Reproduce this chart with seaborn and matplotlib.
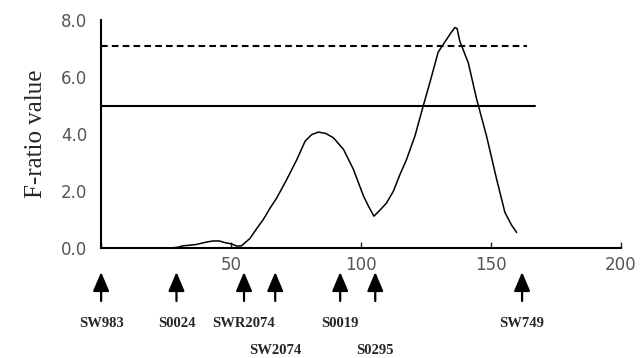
import numpy as np
import pandas as pd
import seaborn as sns
import matplotlib.pyplot as plt
import matplotlib.transforms as mtransforms

# F-ratio profile (position, F value)
positions = [26.5, 29.6, 31.5, 34, 36.8, 40, 43, 45.5, 47.7, 50, 52.2, 54, 57.3, 60,
             62.4, 65, 67.6, 71.4, 75.3, 78.5, 81, 83.6, 86.5, 89.4, 93.3, 97.1, 101,
             103, 105, 107.5, 109.9, 112.5, 115, 117.5, 120.8, 124, 126.5, 129.7, 133,
             135, 136.2, 137, 138, 141.3, 144.5, 148.3, 152.2, 155.4, 158, 159.9]
f_values = [0.0, 0.03, 0.08, 0.1, 0.13, 0.2, 0.25, 0.25, 0.19, 0.15, 0.07, 0.08, 0.34, 0.7,
            1.0, 1.4, 1.76, 2.4, 3.1, 3.75, 3.98, 4.07, 4.02, 3.87, 3.46, 2.76, 1.82,
            1.45, 1.12, 1.35, 1.59, 2.0, 2.58, 3.1, 3.94, 5.0, 5.8, 6.87, 7.33,
            7.6, 7.74, 7.7, 7.27, 6.5, 5.23, 3.94, 2.42, 1.25, 0.8, 0.55]

# significance thresholds (value, right end of line)
threshold_vals = [5.0, 7.1]
threshold_ends = [167, 164]
threshold_styles = ['-', '--']

# markers along the chromosome
marker_names = ['SW983', 'S0024', 'SWR2074', 'SW2074', 'S0019', 'S0295', 'SW749']
marker_pos = [0, 29, 55, 67, 92, 105.5, 162]
marker_row = [0, 0, 0, 1, 0, 1, 0]

x_ticks = [0, 50, 100, 150, 200]
y_ticks = [0.0, 2.0, 4.0, 6.0, 8.0]

sns.set_style('ticks')
plt.rcParams['font.family'] = ['DejaVu Sans']

fig = plt.figure(figsize=(6.44, 3.58), dpi=100)
ax = fig.add_axes([0.157, 0.307, 0.807, 0.637])

df = pd.DataFrame({'pos': positions, 'F': f_values})
sns.lineplot(data=df, x='pos', y='F', ax=ax, color='black', linewidth=1.1)

for val, end, ls in zip(threshold_vals, threshold_ends, threshold_styles):
    if ls == '--':
        ax.plot([0, end], [val, val], color='black', lw=1.5, ls=ls, dashes=(3.2, 2.0))
    else:
        ax.plot([0, end], [val, val], color='black', lw=1.5, ls=ls)

ax.set_xlim(0, 200)
ax.set_ylim(0, 8)
ax.set_xticks(x_ticks)
ax.set_xticklabels(['', '50', '100', '150', '200'])
ax.set_yticks(y_ticks)
ax.set_yticklabels([f'{v:.1f}' for v in y_ticks])
ax.set_yticks([8.0], minor=True)
ax.tick_params(axis='x', direction='in', length=4, width=1, pad=6,
               labelsize=12, labelcolor='#555555')
ax.tick_params(axis='y', which='major', length=0, pad=10,
               labelsize=12, labelcolor='#555555')
ax.tick_params(axis='y', which='minor', direction='in', length=4, width=1)
ax.set_xlabel('')
ax.set_ylabel('F-ratio value', family='Liberation Serif', fontsize=18, labelpad=10)

sns.despine(ax=ax)
for side in ['left', 'bottom']:
    ax.spines[side].set_linewidth(1.5)
    ax.spines[side].set_color('black')

trans = mtransforms.blended_transform_factory(ax.transData, ax.transAxes)
for name, pos, row in zip(marker_names, marker_pos, marker_row):
    ax.annotate('', xy=(pos, -0.105), xytext=(pos, -0.232),
                xycoords=trans, textcoords=trans, annotation_clip=False,
                arrowprops=dict(arrowstyle='-|>,head_length=0.4,head_width=0.17',
                                mutation_scale=29, color='black', lw=1.6,
                                shrinkA=0, shrinkB=0))
    ax.text(pos, -0.329 - 0.118 * row, name, transform=trans, ha='center', va='center',
            family='Liberation Serif', fontweight='bold', fontsize=10.5, clip_on=False)

fig.savefig('out.png', dpi=100, facecolor='white')
